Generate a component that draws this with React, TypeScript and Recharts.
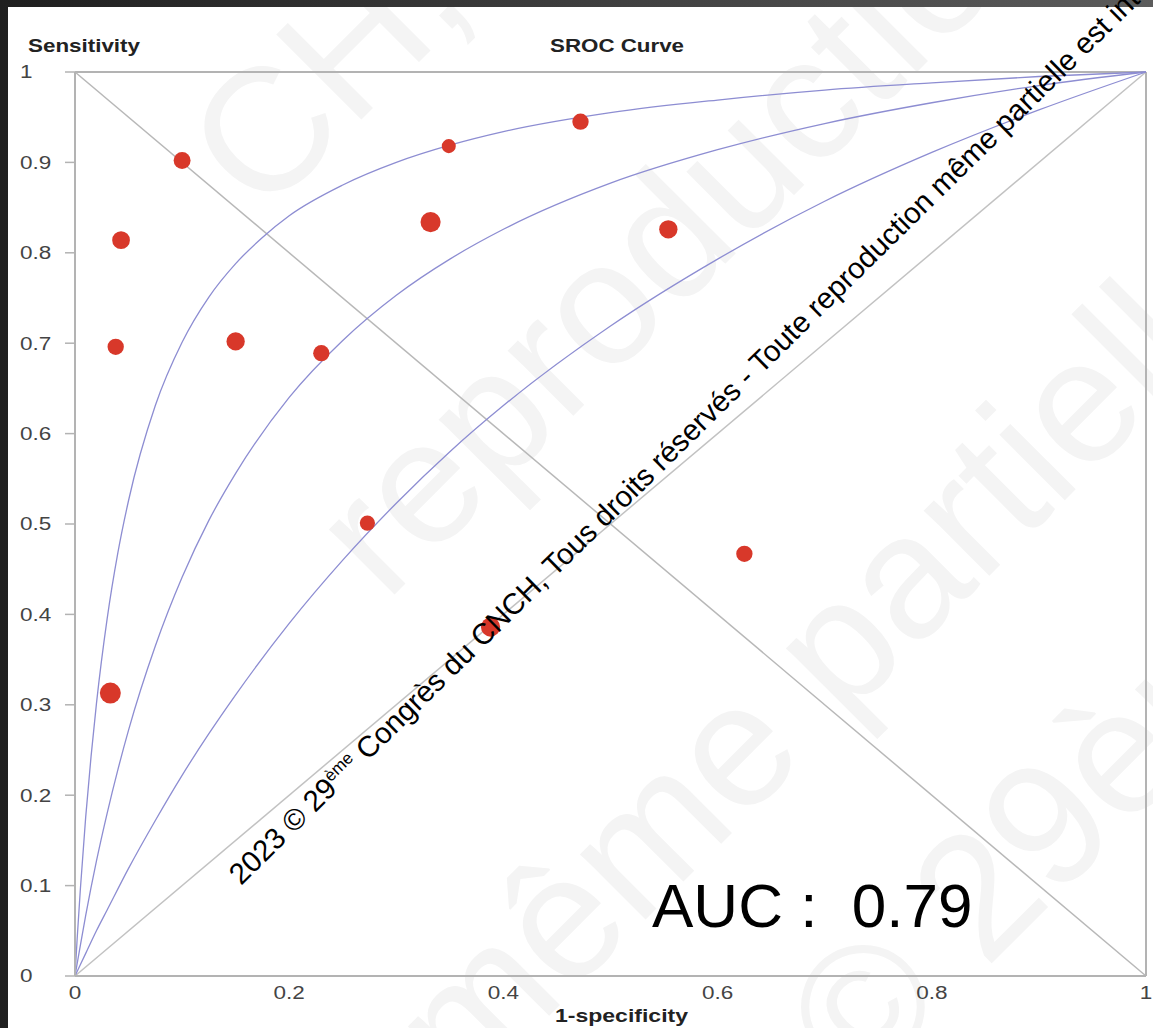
import React from 'react'
import {
  ComposedChart, Line, Scatter, XAxis, YAxis, ZAxis, ReferenceLine,
} from 'recharts'

// axes
const X_TICKS = [0, 0.2, 0.4, 0.6, 0.8, 1]
const Y_TICKS = [0, 0.1, 0.2, 0.3, 0.4, 0.5, 0.6, 0.7, 0.8, 0.9, 1]

// individual studies (1-specificity, sensitivity, marker weight)
const STUDY_FPR = [0.100, 0.043, 0.038, 0.150, 0.230, 0.332, 0.349, 0.472, 0.554, 0.273, 0.388, 0.625, 0.033]
const STUDY_TPR = [0.902, 0.814, 0.696, 0.702, 0.689, 0.834, 0.918, 0.945, 0.826, 0.501, 0.386, 0.467, 0.313]
const STUDY_WEIGHT = [8.3, 8.7, 8, 9, 8, 10, 7, 8, 9, 7.5, 9.5, 8, 10.5]

// SROC curves
const OUTER_FPR = [0, 0.002, 0.005, 0.01, 0.015, 0.02, 0.03, 0.04, 0.05, 0.075, 0.1, 0.125, 0.15, 0.175, 0.2, 0.25, 0.3, 0.35, 0.4, 0.5, 0.6, 0.7, 0.8, 0.9, 1]
const OUTER_TPR = [0, 0.041, 0.096, 0.176, 0.243, 0.301, 0.395, 0.468, 0.526, 0.631, 0.701, 0.751, 0.788, 0.817, 0.841, 0.875, 0.900, 0.919, 0.934, 0.955, 0.969, 0.980, 0.988, 0.995, 1]
const MIDDLE_FPR = [0, 0.005, 0.01, 0.02, 0.03, 0.04, 0.05, 0.075, 0.1, 0.125, 0.15, 0.2, 0.25, 0.3, 0.35, 0.4, 0.5, 0.6, 0.7, 0.8, 0.9, 1]
const MIDDLE_TPR = [0, 0.034, 0.067, 0.127, 0.180, 0.228, 0.272, 0.365, 0.441, 0.504, 0.556, 0.640, 0.703, 0.753, 0.793, 0.826, 0.877, 0.914, 0.943, 0.966, 0.985, 1]
const INNER_FPR = [0, 0.01, 0.02, 0.03, 0.05, 0.075, 0.1, 0.125, 0.15, 0.2, 0.25, 0.3, 0.35, 0.4, 0.5, 0.6, 0.7, 0.8, 0.9, 1]
const INNER_TPR = [0, 0.025, 0.050, 0.073, 0.119, 0.172, 0.222, 0.268, 0.311, 0.390, 0.460, 0.523, 0.580, 0.631, 0.719, 0.793, 0.857, 0.911, 0.958, 1]

const AUC_LABEL = 'AUC :  0.79'

const toPts = (xs: number[], ys: number[]) => xs.map((x, i) => ({ x, y: ys[i] }))
const studies = STUDY_FPR.map((x, i) => ({ x, y: STUDY_TPR[i], w: STUDY_WEIGHT[i] }))
const outer = toPts(OUTER_FPR, OUTER_TPR)
const middle = toPts(MIDDLE_FPR, MIDDLE_TPR)
const inner = toPts(INNER_FPR, INNER_TPR)

const FONT = '"Liberation Sans", Arial, Helvetica, sans-serif'
const AXIS_GREY = '#b3b3b3'
const CURVE = '#8d8dd2'
const FAINT = '#f4f4f4'

const YTick = ({ y, payload }: any) => (
  <g transform={`translate(20, ${y})`}>
    <text transform="scale(1.25,1)" dy="0.36em" fontSize={18} fill="#444" fontFamily={FONT}>
      {String(payload.value)}
    </text>
  </g>
)

const XTick = ({ x, payload }: any) => (
  <g transform={`translate(${x}, 999)`}>
    <text transform="scale(1.25,1)" textAnchor="middle" fontSize={18} fill="#444" fontFamily={FONT}>
      {String(payload.value)}
    </text>
  </g>
)

export default function App() {
  return (
    <div style={{ position: 'absolute', left: 0, top: 0, width: 1153, height: 1028, background: 'linear-gradient(to right, #1f1f1f, #5c5c5c)', overflow: 'hidden' }}>
      {/* white slide area with the faint background watermark, clipped to it */}
      <div style={{ position: 'absolute', left: 8, top: 7, width: 1145, height: 1021, background: '#fff', overflow: 'hidden' }}>
        <svg width={1145} height={1021} style={{ display: 'block' }}>
          <g transform="translate(-8,-7)" fontFamily={FONT} fontSize={175} fill={FAINT}>
            <text transform="translate(262, 219) rotate(-45)">CH,</text>
            <text transform="translate(386, 603) rotate(-45)">reproduction</text>
            <text transform="translate(465, 1100) rotate(-45)">même partielle</text>
            <text transform="translate(860, 1095) rotate(-45)">© 29ème</text>
          </g>
        </svg>
      </div>
      <div style={{ position: 'absolute', left: 0, top: 0 }}>
        <ComposedChart width={1153} height={1028} margin={{ top: 72, right: 7, bottom: 22, left: 0 }}>
          <XAxis type="number" dataKey="x" domain={[0, 1]} ticks={X_TICKS} interval={0}
            tickLine={false} axisLine={{ stroke: AXIS_GREY, strokeWidth: 2 }} tick={<XTick />} height={30} />
          <YAxis type="number" dataKey="y" domain={[0, 1]} ticks={Y_TICKS} interval={0} width={75}
            tickSize={10} tickLine={{ stroke: AXIS_GREY, strokeWidth: 1.5 }}
            axisLine={{ stroke: AXIS_GREY, strokeWidth: 2 }} tick={<YTick />} />
          <ZAxis type="number" dataKey="w" domain={[7, 10.5]} range={[154, 346]} />
          <ReferenceLine y={1} stroke={AXIS_GREY} strokeWidth={2} />
          <ReferenceLine x={1} stroke={AXIS_GREY} strokeWidth={2} />
          <ReferenceLine segment={[{ x: 0, y: 0 }, { x: 1, y: 1 }]} stroke="#c2c2c2" strokeWidth={1.5} />
          <ReferenceLine segment={[{ x: 0, y: 1 }, { x: 1, y: 0 }]} stroke="#b8b8b8" strokeWidth={1.5} />
          <Line data={outer} dataKey="y" type="monotone" stroke={CURVE} strokeWidth={1.3} dot={false} isAnimationActive={false} />
          <Line data={middle} dataKey="y" type="monotone" stroke={CURVE} strokeWidth={1.3} dot={false} isAnimationActive={false} />
          <Line data={inner} dataKey="y" type="monotone" stroke={CURVE} strokeWidth={1.3} dot={false} isAnimationActive={false} />
          <Scatter data={studies} dataKey="y" fill="#d8382a" isAnimationActive={false} />
        </ComposedChart>
      </div>
      <svg width={1153} height={1028} style={{ position: 'absolute', left: 0, top: 0, pointerEvents: 'none' }}>
        <g fontFamily={FONT} fontWeight="bold" fill="#222" fontSize={19}>
          <text x={28} y={52} textLength={112} lengthAdjust="spacingAndGlyphs">Sensitivity</text>
          <text x={550} y={52} textLength={134} lengthAdjust="spacingAndGlyphs">SROC Curve</text>
          <text x={555} y={1022} textLength={133} lengthAdjust="spacingAndGlyphs">1-specificity</text>
        </g>
        <text x={652} y={927} fontFamily={FONT} fontSize={62} fill="#000" style={{ whiteSpace: 'pre' }}>{AUC_LABEL}</text>
        <text transform="translate(241, 886) rotate(-44.5)" fontFamily={FONT} fontSize={29.5} fill="#000">
          2023 © 29<tspan fontSize={17} dy={-11}>ème</tspan><tspan dy={11}> Congrès du CNCH, Tous droits réservés - Toute reproduction même partielle est interdite</tspan>
        </text>
      </svg>
    </div>
  )
}
